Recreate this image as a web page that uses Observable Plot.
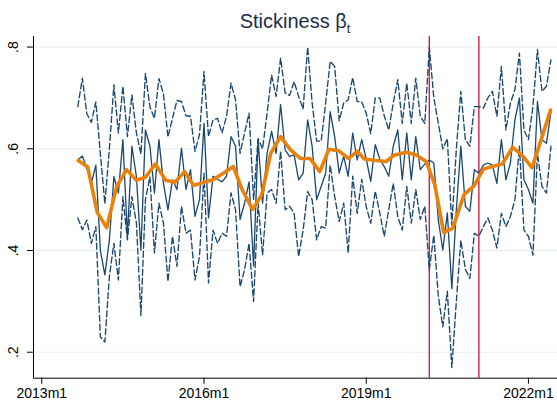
<!DOCTYPE html>
<html>
<head>
<meta charset="utf-8">
<script src="https://cdn.jsdelivr.net/npm/d3@7"></script>
<script src="https://cdn.jsdelivr.net/npm/@observablehq/plot@0.6"></script>
<style>
  html, body { margin: 0; padding: 0; background: #ffffff; }
  #wrap { position: relative; width: 557px; height: 403px; background: #ffffff; }
  #title { position: absolute; left: 33px; right: 0; top: 0; height: 36px; text-align: center;
           font-family: "Liberation Sans", Arial, sans-serif; font-size: 20px; line-height: 20px;
           padding-top: 11px; box-sizing: border-box; color: #1c2b4a; }
  #title sub { font-size: 13px; vertical-align: -5px; line-height: 0; }
  #chart { position: absolute; left: 0; top: 36px; }
</style>
</head>
<body>
<div id="wrap">
  <div id="title">Stickiness β<sub>t</sub></div>
  <div id="chart"></div>
</div>
<script>
// month index: 0 = 2013m1
const firstMonth = 8; // 2013m9

const pointEst = [
  0.578, 0.586, 0.562, 0.532, 0.568, 0.400, 0.352, 0.421, 0.545, 0.513,
  0.618, 0.428, 0.605, 0.545, 0.401, 0.637, 0.605, 0.513, 0.618, 0.532,
  0.480, 0.539, 0.520, 0.601, 0.520, 0.559, 0.467, 0.500, 0.650, 0.464,
  0.546, 0.540, 0.535, 0.546, 0.624, 0.605, 0.461, 0.493, 0.535, 0.370,
  0.618, 0.493, 0.591, 0.634, 0.591, 0.687, 0.598, 0.585, 0.588, 0.539,
  0.552, 0.657, 0.605, 0.500, 0.526, 0.552, 0.673, 0.624, 0.552, 0.585,
  0.546, 0.631, 0.578, 0.618, 0.580, 0.536, 0.608, 0.580, 0.565, 0.546,
  0.605, 0.637, 0.539, 0.631, 0.539, 0.624, 0.559, 0.570, 0.578, 0.572,
  0.460, 0.401, 0.474, 0.325, 0.480, 0.605, 0.487, 0.477, 0.559, 0.552,
  0.568, 0.572, 0.568, 0.532, 0.618, 0.539, 0.572, 0.657, 0.700, 0.539,
  0.520, 0.493, 0.693, 0.618, 0.611, 0.673
];

const upperBand = [
  0.683, 0.739, 0.669, 0.652, 0.692, 0.590, 0.492, 0.600, 0.726, 0.631,
  0.723, 0.624, 0.706, 0.631, 0.590, 0.748, 0.682, 0.660, 0.738, 0.708,
  0.623, 0.660, 0.695, 0.693, 0.665, 0.664, 0.595, 0.628, 0.752, 0.624,
  0.657, 0.660, 0.631, 0.664, 0.729, 0.696, 0.591, 0.631, 0.670, 0.500,
  0.620, 0.600, 0.670, 0.745, 0.703, 0.778, 0.710, 0.705, 0.732, 0.703,
  0.678, 0.800, 0.690, 0.615, 0.615, 0.690, 0.772, 0.762, 0.655, 0.690,
  0.696, 0.740, 0.693, 0.692, 0.670, 0.630, 0.700, 0.700, 0.665, 0.637,
  0.690, 0.736, 0.650, 0.729, 0.650, 0.739, 0.664, 0.650, 0.800, 0.700,
  0.650, 0.600, 0.620, 0.450, 0.600, 0.713, 0.618, 0.605, 0.683, 0.683,
  0.680, 0.700, 0.713, 0.664, 0.762, 0.637, 0.690, 0.716, 0.788, 0.637,
  0.618, 0.683, 0.795, 0.713, 0.723, 0.775
];

const lowerBand = [
  0.464, 0.441, 0.460, 0.414, 0.447, 0.230, 0.220, 0.349, 0.414, 0.342,
  0.506, 0.421, 0.506, 0.454, 0.272, 0.500, 0.545, 0.395, 0.493, 0.454,
  0.339, 0.428, 0.369, 0.487, 0.434, 0.440, 0.342, 0.388, 0.552, 0.336,
  0.440, 0.414, 0.434, 0.428, 0.513, 0.480, 0.329, 0.362, 0.414, 0.300,
  0.493, 0.391, 0.513, 0.520, 0.493, 0.595, 0.480, 0.487, 0.473, 0.388,
  0.440, 0.516, 0.500, 0.421, 0.447, 0.444, 0.568, 0.506, 0.457, 0.493,
  0.395, 0.546, 0.473, 0.540, 0.486, 0.454, 0.517, 0.474, 0.428, 0.480,
  0.532, 0.467, 0.440, 0.526, 0.454, 0.520, 0.461, 0.487, 0.362, 0.430,
  0.310, 0.250, 0.320, 0.170, 0.300, 0.420, 0.363, 0.345, 0.434, 0.428,
  0.447, 0.464, 0.440, 0.405, 0.473, 0.447, 0.467, 0.500, 0.605, 0.440,
  0.428, 0.391, 0.591, 0.526, 0.513, 0.605
];

// smoothed series (orange), positions in months since 2013m1
const smoothMonth = [
  8.1, 10.2, 12.3, 14.4, 16.6, 18.8, 21.0, 23.0, 25.2, 27.5,
  29.5, 31.7, 33.7, 35.9, 38.0, 40.3, 42.5, 44.5, 46.8, 48.8,
  50.8, 53.0, 55.2, 57.4, 59.5, 61.7, 63.7, 65.9, 68.1, 70.0,
  71.6, 74.2, 76.4, 78.3, 80.9, 83.1, 85.3, 87.2, 89.2, 91.2,
  93.7, 95.9, 98.0, 100.0, 102.2, 104.5, 106.7, 108.8, 110.9, 112.9
];
const smoothVal = [
  0.577, 0.564, 0.475, 0.445, 0.525, 0.559, 0.538, 0.544, 0.570, 0.538,
  0.534, 0.555, 0.528, 0.534, 0.539, 0.552, 0.565, 0.519, 0.481, 0.509,
  0.591, 0.624, 0.598, 0.581, 0.581, 0.555, 0.599, 0.596, 0.581, 0.595,
  0.580, 0.577, 0.575, 0.588, 0.593, 0.588, 0.575, 0.530, 0.435, 0.444,
  0.510, 0.527, 0.560, 0.565, 0.570, 0.603, 0.586, 0.563, 0.620, 0.676
];

const eventMonths = [86, 97]; // 2020m3, 2021m2
const xTickMonths = [0, 36, 72, 108];
const xTickLabels = ["2013m1", "2016m1", "2019m1", "2022m1"];
const yTicks = [0.2, 0.4, 0.6, 0.8];
const yTickLabels = [".2", ".4", ".6", ".8"];

const xDomain = [-1.84, 114.45];
const yDomain = [0.1489, 0.8208];

const navy = "#1a476f";
const orange = "#e8820c";
const red = "#d41e48";

const rows = pointEst.map((p, i) => ({ m: firstMonth + i, p, u: upperBand[i], l: lowerBand[i] }));
const smooth = smoothMonth.map((m, i) => ({ m, v: smoothVal[i] }));

const chart = Plot.plot({
  width: 557,
  height: 367,
  marginTop: 0,
  marginLeft: 33,
  marginRight: 0,
  marginBottom: 25.3,
  x: { domain: xDomain },
  y: { domain: yDomain },
  style: { fontFamily: "'Liberation Sans', Arial, sans-serif", fontSize: "14px", background: "#ffffff", color: "#000000", overflow: "visible" },
  marks: [
    Plot.gridY(yTicks, { stroke: "#e6eef1", strokeOpacity: 1, strokeWidth: 1 }),
    Plot.ruleX(eventMonths, { stroke: red, strokeWidth: 1.4 }),
    Plot.lineY(rows, { x: "m", y: "u", stroke: navy, strokeWidth: 1.35, strokeDasharray: "6,3" }),
    Plot.lineY(rows, { x: "m", y: "l", stroke: navy, strokeWidth: 1.35, strokeDasharray: "6,3" }),
    Plot.lineY(rows, { x: "m", y: "p", stroke: navy, strokeWidth: 1.3 }),
    Plot.line(smooth, { x: "m", y: "v", stroke: orange, strokeWidth: 3.6, strokeLinejoin: "round", strokeLinecap: "round" }),
    Plot.ruleX([xDomain[0]], { stroke: "#000000", strokeWidth: 1 }),
    Plot.ruleY([yDomain[0]], { stroke: "#000000", strokeWidth: 1 }),
    Plot.axisX(xTickMonths, { anchor: "bottom", tickSize: 6, tickPadding: 4, fontSize: 14, label: null,
      tickFormat: d => xTickLabels[xTickMonths.indexOf(d)] }),
    Plot.axisY(yTicks, { anchor: "left", tickSize: 6, label: null, tickFormat: () => "" }),
    Plot.text(yTicks, { y: d => d, frameAnchor: "left", dx: -20, rotate: -90, fontSize: 14,
      textAnchor: "middle", lineAnchor: "middle", text: d => yTickLabels[yTicks.indexOf(d)] })
  ]
});
document.getElementById("chart").appendChild(chart);
</script>
</body>
</html>
